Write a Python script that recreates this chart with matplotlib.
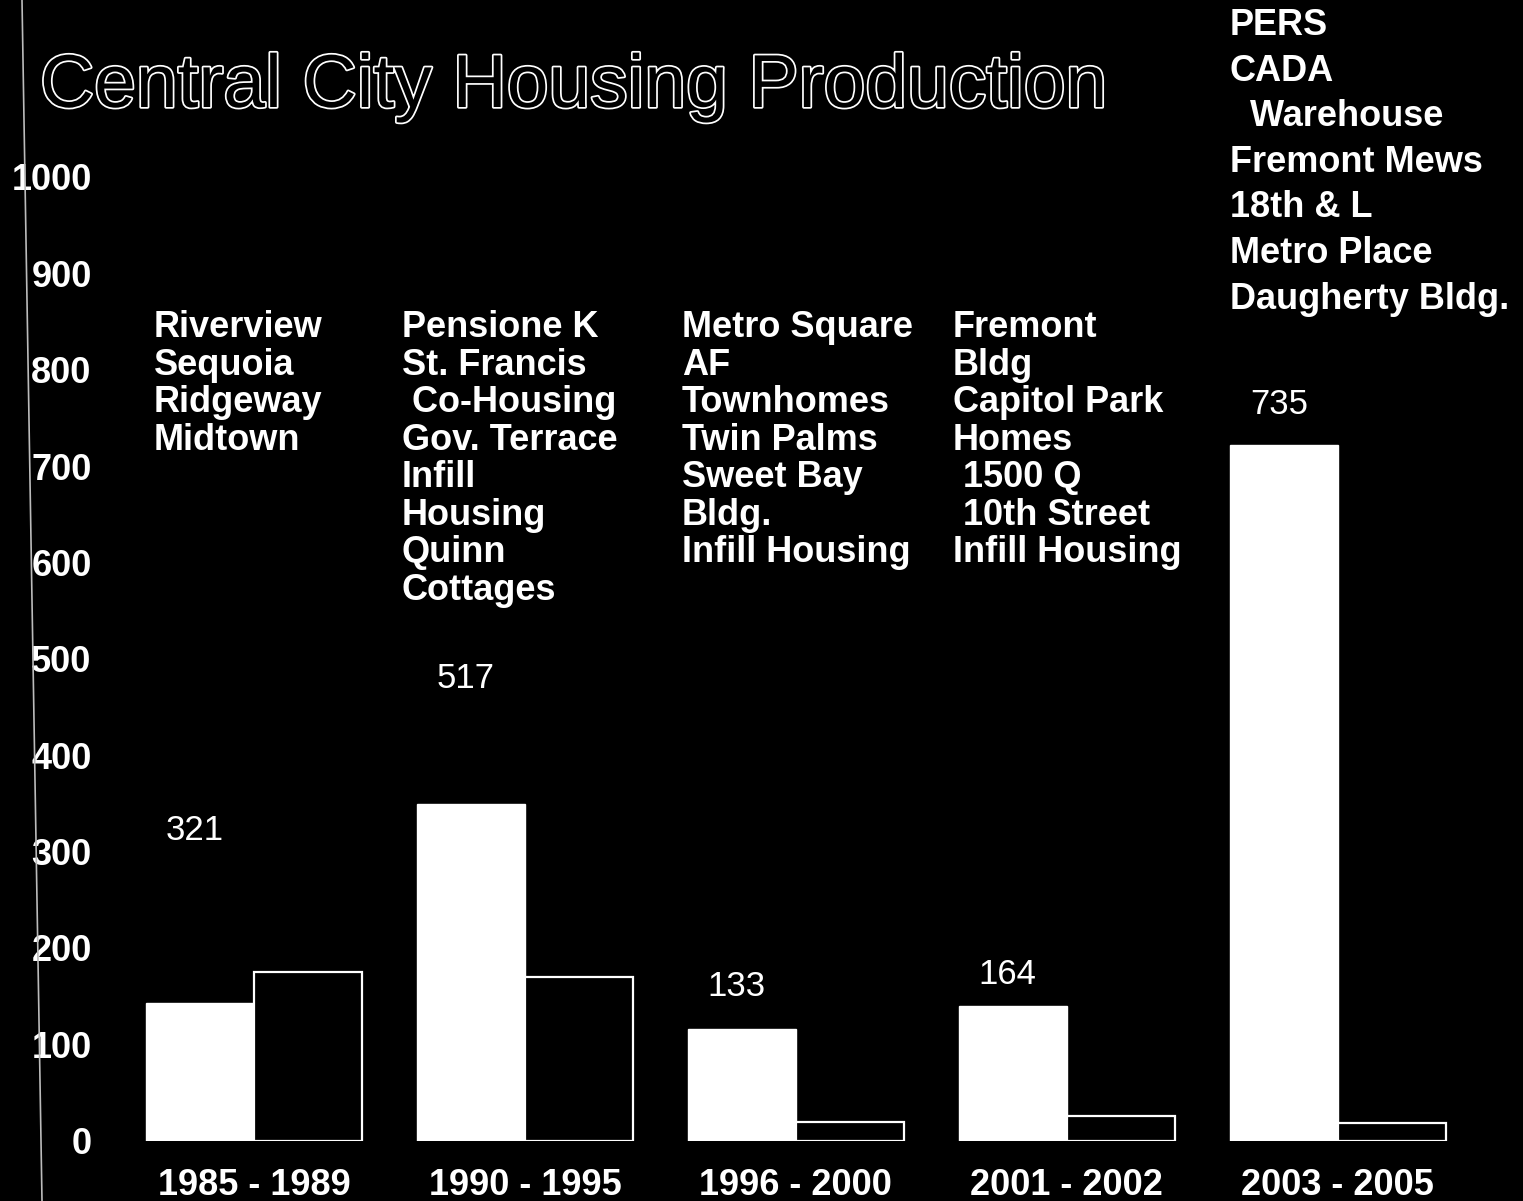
import matplotlib
matplotlib.use('Agg')
import matplotlib.pyplot as plt
import matplotlib.patheffects as pe
import numpy as np

# periods and unit counts
periods = ['1985 - 1989', '1990 - 1995', '1996 - 2000', '2001 - 2002', '2003 - 2005']
units_a = [143, 349, 116, 140, 722]   # white bars
units_b = [175, 170, 19, 26, 18]      # outlined bars
totals = [321, 517, 133, 164, 735]

projects = [
    ['Riverview', 'Sequoia', 'Ridgeway', 'Midtown'],
    ['Pensione K', 'St. Francis', ' Co-Housing', 'Gov. Terrace', 'Infill', 'Housing', 'Quinn', 'Cottages'],
    ['Metro Square', 'AF', 'Townhomes', 'Twin Palms', 'Sweet Bay', 'Bldg.', 'Infill Housing'],
    ['Fremont', 'Bldg', 'Capitol Park', 'Homes', ' 1500 Q', ' 10th Street', 'Infill Housing'],
    ['PERS', 'CADA', '  Warehouse', 'Fremont Mews', '18th & L', 'Metro Place', 'Daugherty Bldg.'],
]
yticks = list(range(0, 1001, 100))

# layout of the annotations
note_dx = [0.03, -0.054, -0.021, -0.021, 0.001]
note_top = [862, 862, 862, 862, 1175]
note_spacing = [1.095, 1.095, 1.095, 1.095, 1.39]
total_y = [322, 480, 160, 172, 764]
total_dx = 0.075

W = 0.4
x = np.arange(len(periods))

fig = plt.figure(figsize=(15.23, 12.01), dpi=100, facecolor='black')
ax = fig.add_axes([100/1523, (1201-1140.7)/1201, 1423/1523, (1140.7-177)/1201])
ax.set_facecolor('black')

ax.bar(x - W/2, units_a, W, color='white', edgecolor='white', linewidth=1)
ax.bar(x + W/2, units_b, W, color='black', edgecolor='white', linewidth=1.6)

ax.set_xlim(-0.568, 4.683)
ax.set_ylim(0, 1000)
for s in ax.spines.values():
    s.set_visible(False)

ax.set_yticks(yticks)
ax.set_yticklabels([str(v) for v in yticks], fontsize=26, fontweight='bold',
                   color='white', family='Liberation Sans')
ax.set_xticks(x)
ax.set_xticklabels(periods, fontsize=26, fontweight='bold', color='white',
                   family='Liberation Sans')
ax.tick_params(axis='y', length=0, pad=6)
ax.tick_params(axis='x', length=0, pad=20)

for i in range(len(periods)):
    ax.text(i - W + note_dx[i], note_top[i], '\n'.join(projects[i]), color='white',
            fontsize=26, fontweight='bold', family='Liberation Sans', va='top',
            ha='left', linespacing=note_spacing[i], clip_on=False)
    ax.text(i - W + total_dx, total_y[i], str(totals[i]), color='white',
            fontsize=25, family='Liberation Sans', va='center', ha='left')

fig.text(40/1523, 1 - 107/1201, 'Central City Housing Production', fontsize=54,
         family='Liberation Sans', color='black', va='baseline', ha='left',
         path_effects=[pe.Stroke(linewidth=2.5, foreground='white'), pe.Normal()])

# scanner edge line at the left
fig.add_artist(plt.Line2D([22/1523, 42/1523], [1, 0], color='#bbbbbb', linewidth=1.2))

fig.savefig('out.png', dpi=100, facecolor='black')
